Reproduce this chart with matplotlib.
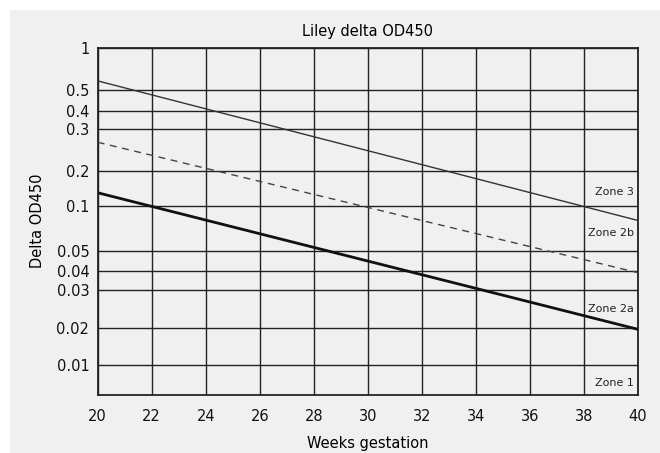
import numpy as np
import matplotlib.pyplot as plt

# Liley chart boundary lines (value at 20 and 40 weeks)
weeks = [20, 40]
zone3_line = [0.58, 0.080]
zone2_mid = [0.264, 0.039]
zone2a_line = [0.130, 0.0195]

x_ticks = list(range(20, 41, 2))
y_ticks = [0.01, 0.02, 0.03, 0.04, 0.05, 0.1, 0.2, 0.3, 0.4, 0.5, 1]
y_tick_labels = ["0.01", "0.02", "0.03", "0.04", "0.05", "0.1", "0.2", "0.3", "0.4", "0.5", "1"]

zone_names = ["Zone 3", "Zone 2b", "Zone 2a", "Zone 1"]
zone_y = [0.132, 0.066, 0.0245, 0.0071]

# the printed chart is not a true log scale: ruling heights of each value
ruling_vals = [0.0057, 0.01, 0.02, 0.03, 0.04, 0.05, 0.1, 0.2, 0.3, 0.4, 0.5, 1]
ruling_h = [0, 30, 67, 105, 124, 144, 189, 224, 266, 284, 305, 347.5]
log_vals = np.log10(ruling_vals)


def forward(v):
    v = np.clip(np.asarray(v, dtype=float), 1e-9, None)
    return np.interp(np.log10(v), log_vals, ruling_h)


def inverse(h):
    return 10 ** np.interp(np.asarray(h, dtype=float), ruling_h, log_vals)


bg = '#f0f0f0'
fig = plt.figure(figsize=(6.6, 4.53), dpi=100, facecolor='white')
fig.add_artist(plt.Rectangle((10 / 660, 0), 1, 1 - 10 / 453, transform=fig.transFigure,
                             facecolor=bg, edgecolor='none', zorder=-10))
ax = fig.add_axes([97.7 / 660, 58 / 453, 540.3 / 660, 347.5 / 453])
ax.set_facecolor(bg)
ax.set_yscale('function', functions=(forward, inverse))
ax.set_xlim(20, 40)
ax.set_ylim(0.0057, 1)

for v in y_ticks:
    ax.axhline(v, color='#222222', lw=1.0, zorder=1)
for w in x_ticks:
    ax.axvline(w, color='#222222', lw=1.0, zorder=1)

ax.plot(weeks, zone3_line, color='#333333', lw=1.0, zorder=3)
ax.plot(weeks, zone2_mid, color='#444444', lw=1.0, ls=(0, (5, 4)), zorder=3)
ax.plot(weeks, zone2a_line, color='#111111', lw=2.0, zorder=3)

for name, y in zip(zone_names, zone_y):
    ax.text(39.85, y, name, ha='right', va='center', fontsize=8, color='#222222', zorder=4)

ax.set_xticks(x_ticks)
ax.set_xticklabels([str(w) for w in x_ticks])
ax.set_yticks(y_ticks)
ax.set_yticklabels(y_tick_labels)
ax.yaxis.set_minor_locator(plt.NullLocator())
ax.tick_params(length=0, labelsize=10.5, colors='#111111')
ax.tick_params(axis='y', pad=6)
ax.tick_params(axis='x', pad=10)

for s in ax.spines.values():
    s.set_linewidth(1.3)
    s.set_color('#222222')

ax.set_title('Liley delta OD450', fontsize=10.5, pad=8)
ax.set_xlabel('Weeks gestation', fontsize=10.5, labelpad=9)
ax.set_ylabel('Delta OD450', fontsize=10.5, labelpad=8)

fig.savefig('out.png', dpi=100, facecolor='white')
